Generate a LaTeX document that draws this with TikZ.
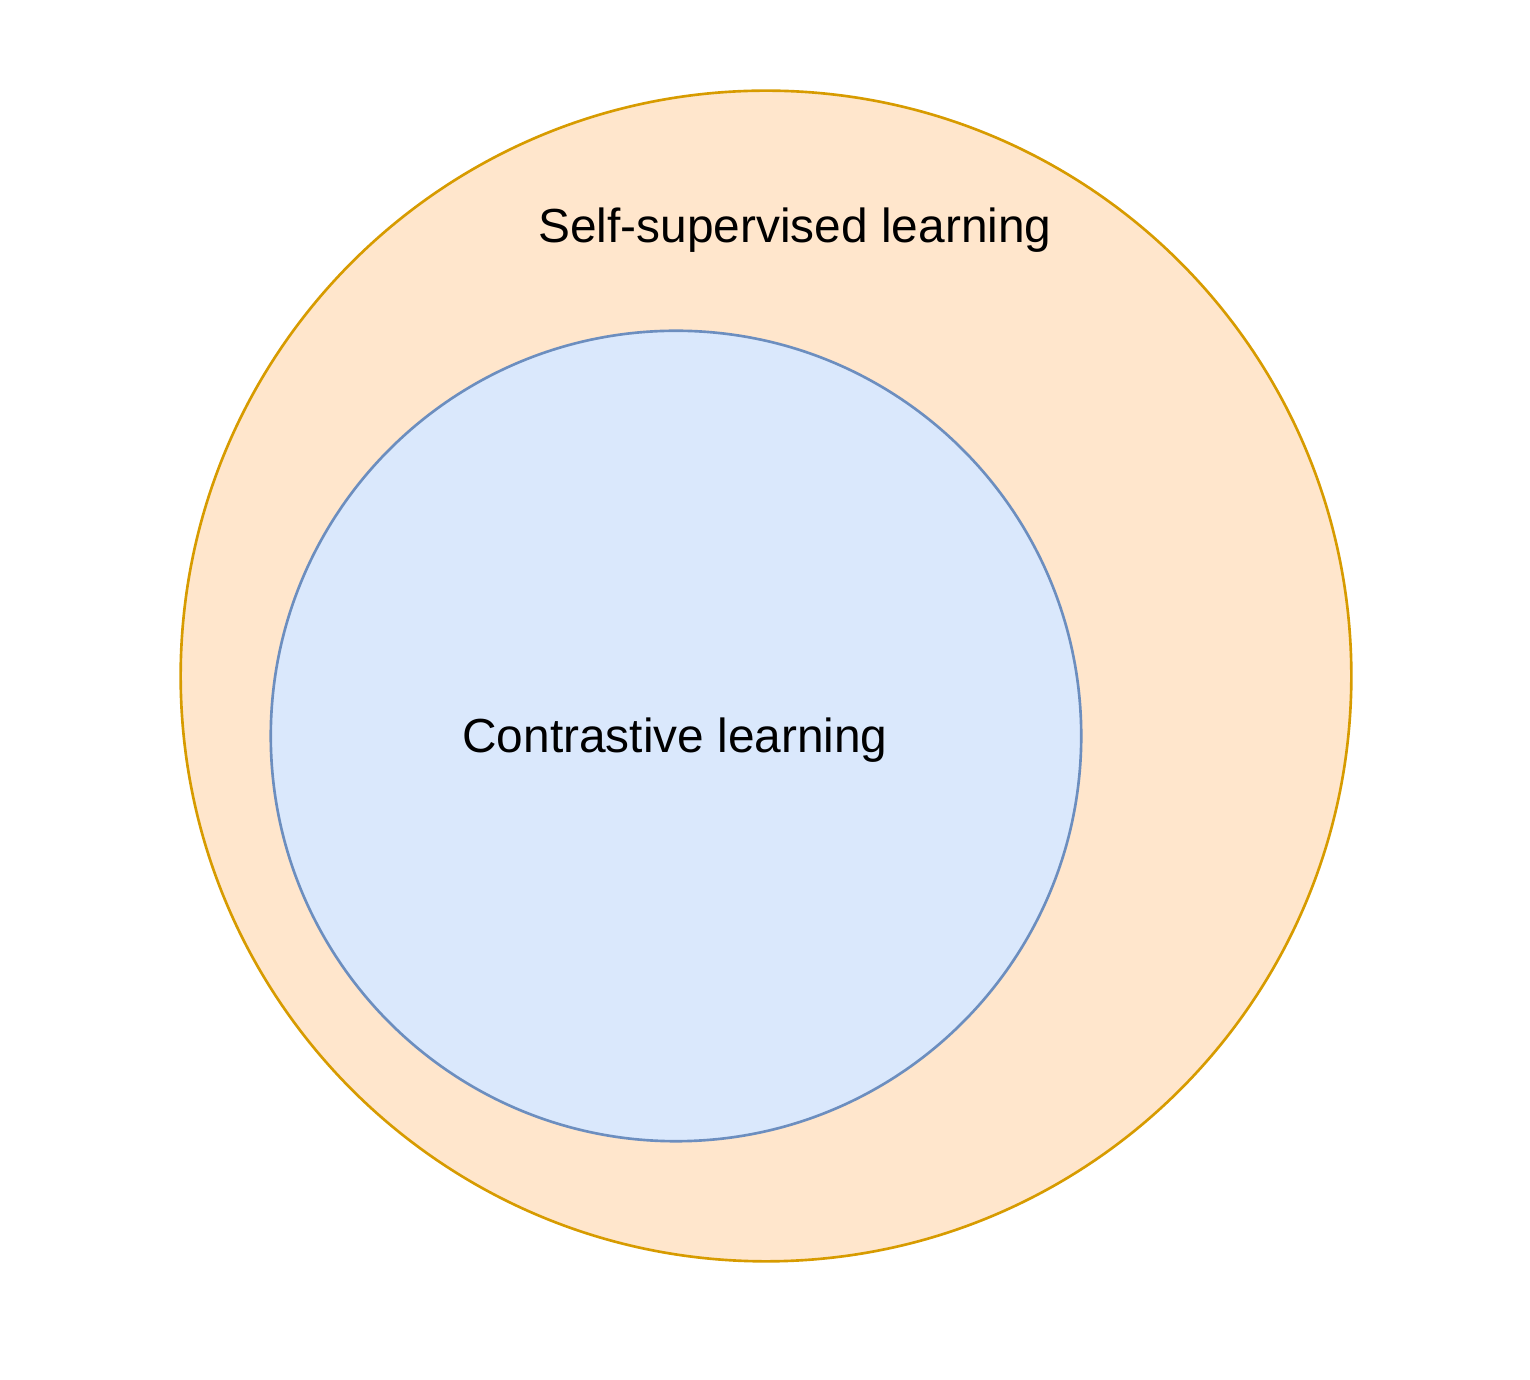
\documentclass[tikz,border=0pt]{standalone}
\usepackage{fontspec}
\setmainfont{Liberation Sans}
\definecolor{orfill}{HTML}{FFE6CC}
\definecolor{ordraw}{HTML}{D79B00}
\definecolor{blfill}{HTML}{DAE8FC}
\definecolor{bldraw}{HTML}{6C8EBF}
\begin{document}
\begin{tikzpicture}[x=0.01cm,y=-0.01cm,
  lbl/.style={font=\fontsize{13.6pt}{16pt}\selectfont, inner sep=0pt, text=black},
  ring/.style={circle, inner sep=0pt, line width=0.75pt}]
\useasboundingbox (0,0) rectangle (1530,1380);
\node[ring, minimum size=11.70cm, fill=orfill, draw=ordraw] (outer) at (766,676) {};
\node[ring, minimum size=8.10cm, fill=blfill, draw=bldraw] (inner) at (676,736) {};
\node[lbl] (ssl) at (795,230) {Self-supervised learning};
\node[lbl] (cl) at (675,740) {Contrastive learning};
\end{tikzpicture}
\end{document}
